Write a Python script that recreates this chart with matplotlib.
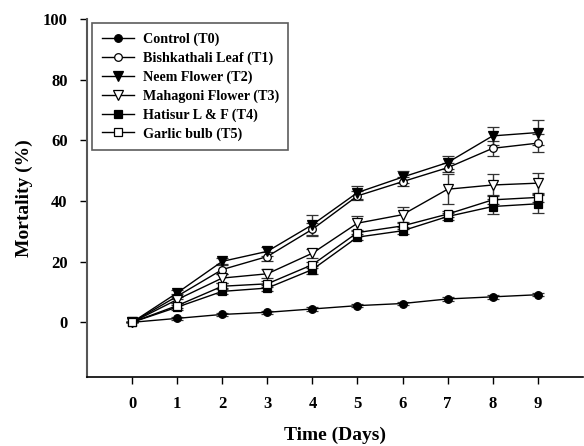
import matplotlib.pyplot as plt

plt.rcParams["font.family"] = ["Liberation Serif", "DejaVu Serif"]
plt.rcParams["font.weight"] = "bold"

days = [0, 1, 2, 3, 4, 5, 6, 7, 8, 9]

control = [0, 1.3, 2.6, 3.3, 4.4, 5.5, 6.2, 7.7, 8.4, 9.1]
control_err = [0, 0.4, 0.6, 0.5, 0.6, 0.5, 0.6, 0.8, 0.6, 0.5]

bishkathali = [0, 8.6, 17.4, 21.7, 30.7, 41.7, 46.4, 51.0, 57.4, 59.1]
bishkathali_err = [0, 0.8, 1.5, 1.5, 2.2, 1.5, 1.5, 1.5, 2.5, 3.0]

neem = [0, 9.7, 20.1, 23.4, 32.2, 42.8, 47.9, 52.7, 61.5, 62.6]
neem_err = [0, 1.0, 1.0, 1.5, 3.3, 2.2, 2.0, 2.0, 3.0, 4.0]

mahagoni = [0, 7.5, 14.6, 16.0, 22.8, 32.7, 35.5, 43.9, 45.3, 45.9]
mahagoni_err = [0, 1.0, 1.5, 1.5, 1.5, 2.5, 2.5, 5.0, 3.5, 3.5]

hatisur = [0, 5.0, 10.2, 11.3, 17.4, 28.1, 30.2, 34.9, 38.2, 39.1]
hatisur_err = [0, 0.8, 1.0, 1.0, 1.3, 1.0, 1.2, 1.0, 2.5, 3.0]

garlic = [0, 5.5, 11.9, 12.7, 19.0, 29.6, 31.8, 35.7, 40.4, 41.2]
garlic_err = [0, 0.8, 1.0, 1.0, 1.0, 1.0, 1.0, 1.0, 1.5, 1.5]

series = [
    ("Control (T0)", control, control_err, "o", "black", 5.5),
    ("Bishkathali Leaf (T1)", bishkathali, bishkathali_err, "o", "white", 5.5),
    ("Neem Flower (T2)", neem, neem_err, "v", "black", 6.5),
    ("Mahagoni Flower (T3)", mahagoni, mahagoni_err, "v", "white", 6.5),
    ("Hatisur L & F (T4)", hatisur, hatisur_err, "s", "black", 5.5),
    ("Garlic bulb (T5)", garlic, garlic_err, "s", "white", 5.5),
]

fig = plt.figure(figsize=(5.84, 4.46), dpi=100)
ax = fig.add_axes([0.149, 0.155, 0.849, 0.802])

for label, vals, errs, marker, face, size in series:
    ax.errorbar(
        days,
        vals,
        yerr=errs,
        color="black",
        ecolor="#333333",
        elinewidth=1,
        capsize=4,
        capthick=1,
        linewidth=1,
        marker=marker,
        markersize=size,
        markerfacecolor=face,
        markeredgecolor="black",
        markeredgewidth=0.9,
        label=label,
    )

ax.set_xlim(-1, 10)
ax.set_ylim(-18, 100)
ax.set_xticks(days)
ax.set_yticks([0, 20, 40, 60, 80, 100])
ax.tick_params(direction="out", length=5, width=1, labelsize=12, pad=9)

ax.spines["top"].set_visible(False)
ax.spines["right"].set_visible(False)
ax.spines["left"].set_color("#555555")
ax.spines["left"].set_linewidth(1.5)
ax.spines["bottom"].set_linewidth(1.2)

ax.set_xlabel("Time (Days)", fontsize=14, fontweight="bold", labelpad=10)
ax.set_ylabel("Mortality (%)", fontsize=14, fontweight="bold", labelpad=7)

handles, labels = ax.get_legend_handles_labels()
leg = ax.legend(
    [h[0] for h in handles],
    labels,
    loc="upper left",
    bbox_to_anchor=(0.011, 0.988),
    borderaxespad=0,
    frameon=True,
    fancybox=False,
    edgecolor="#333333",
    handlelength=2.3,
    handletextpad=0.6,
    labelspacing=0.38,
    borderpad=0.65,
    prop={"weight": "bold", "size": 10.2},
)
leg.get_frame().set_linewidth(1.2)

fig.savefig("out.png", dpi=100)
